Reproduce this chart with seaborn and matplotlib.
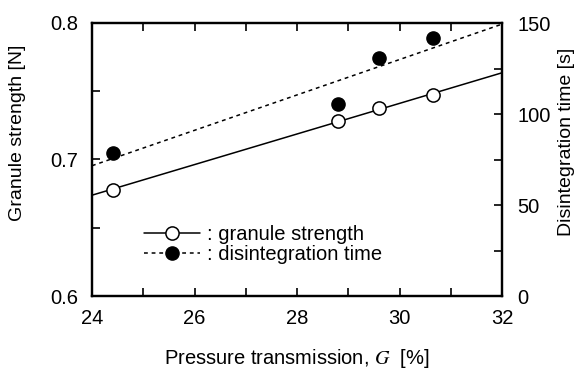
import numpy as np
import pandas as pd
import matplotlib
matplotlib.use("Agg")
import matplotlib.pyplot as plt
from matplotlib.lines import Line2D
from matplotlib.ticker import MultipleLocator, FixedLocator, FuncFormatter
import seaborn as sns

# Data
G = [24.4, 28.8, 29.6, 30.65]                 # pressure transmission [%]
strength = [0.678, 0.728, 0.738, 0.747]       # granule strength [N]
disint = [78.5, 105.5, 130.5, 141.5]          # disintegration time [s]

df = pd.DataFrame({"G": G, "strength": strength, "disint": disint})

sns.set_style("ticks")
plt.rcParams["font.family"] = ["Liberation Sans", "DejaVu Sans"]
plt.rcParams["mathtext.fontset"] = "stix"
plt.rcParams["text.color"] = "black"
plt.rcParams["axes.labelcolor"] = "black"
plt.rcParams["xtick.color"] = "black"
plt.rcParams["ytick.color"] = "black"

TICK_FS = 14.5
fig = plt.figure(figsize=(5.78, 3.74), dpi=100)
ax = fig.add_axes([92 / 578, 1 - 296 / 374, 410 / 578, 273 / 374])
ax2 = ax.twinx()

ax.set_xlim(24, 32)
ax.set_ylim(0.6, 0.8)
ax2.set_ylim(0, 150)

# Fit lines (regression over the axis range)
sns.regplot(data=df, x="G", y="strength", ax=ax, scatter=False, ci=None,
            truncate=False, color="black", line_kws=dict(lw=1.1, zorder=2))
sns.regplot(data=df, x="G", y="disint", ax=ax2, scatter=False, ci=None,
            truncate=False, color="black",
            line_kws=dict(lw=1.1, ls=(0, (2.5, 2.5)), zorder=2))

# Markers
ax.plot(df["G"], df["strength"], ls="none", marker="o", ms=9.5,
        mfc="white", mec="black", mew=1.1, zorder=5, clip_on=False)
ax2.plot(df["G"], df["disint"], ls="none", marker="o", ms=9.5,
         mfc="black", mec="black", mew=1.0, zorder=5, clip_on=False)

ax.set_xlim(24, 32)
ax.set_ylim(0.6, 0.8)
ax2.set_ylim(0, 150)

# Ticks
ax.xaxis.set_major_locator(MultipleLocator(1))
ax.xaxis.set_major_formatter(FuncFormatter(
    lambda v, p: f"{int(round(v))}" if int(round(v)) % 2 == 0 else ""))
ax.yaxis.set_major_locator(FixedLocator([0.6, 0.7, 0.8]))
ax.yaxis.set_minor_locator(FixedLocator([0.65, 0.75]))
ax.yaxis.set_major_formatter(FuncFormatter(lambda v, p: f"{v:.1f}"))
ax2.yaxis.set_major_locator(FixedLocator([0, 50, 100, 150]))
ax2.yaxis.set_minor_locator(FixedLocator([25, 75, 125]))

for a in (ax, ax2):
    a.tick_params(which="both", direction="in", length=6, width=1.2,
                  labelsize=TICK_FS, colors="black", labelcolor="black")
    a.tick_params(axis="x", pad=9)
    for s in a.spines.values():
        s.set_linewidth(1.6)
        s.set_visible(True)
        s.set_color("black")
ax.tick_params(axis="y", pad=10)
ax2.tick_params(axis="y", pad=11)
ax.tick_params(top=True, right=False)
ax.tick_params(which="minor", left=True)

ax.set_xlabel(r"Pressure transmission, $G$  [%]", fontsize=14.5, labelpad=14,
              color="black")
ax.set_ylabel("Granule strength [N]", fontsize=14, color="black")
ax2.set_ylabel("Disintegration time [s]", fontsize=14, color="black")
ax.yaxis.set_label_coords(-0.16, 0.597)
ax2.yaxis.set_label_coords(1.137, 0.564)

handles = [
    Line2D([], [], color="black", lw=1.1, marker="o", ms=9.5,
           mfc="white", mec="black", mew=1.1),
    Line2D([], [], color="black", lw=1.1, ls=(0, (2.5, 2.5)), marker="o",
           ms=9.5, mfc="black", mec="black"),
]
leg = ax.legend(handles, [": granule strength", ": disintegration time"],
                loc="center left", bbox_to_anchor=(0.127, 0.189),
                frameon=False, fontsize=14.5, handlelength=2.8,
                handletextpad=0.3, labelspacing=0.05, borderpad=0,
                borderaxespad=0, labelcolor="black")

fig.savefig("out.png", dpi=100)
